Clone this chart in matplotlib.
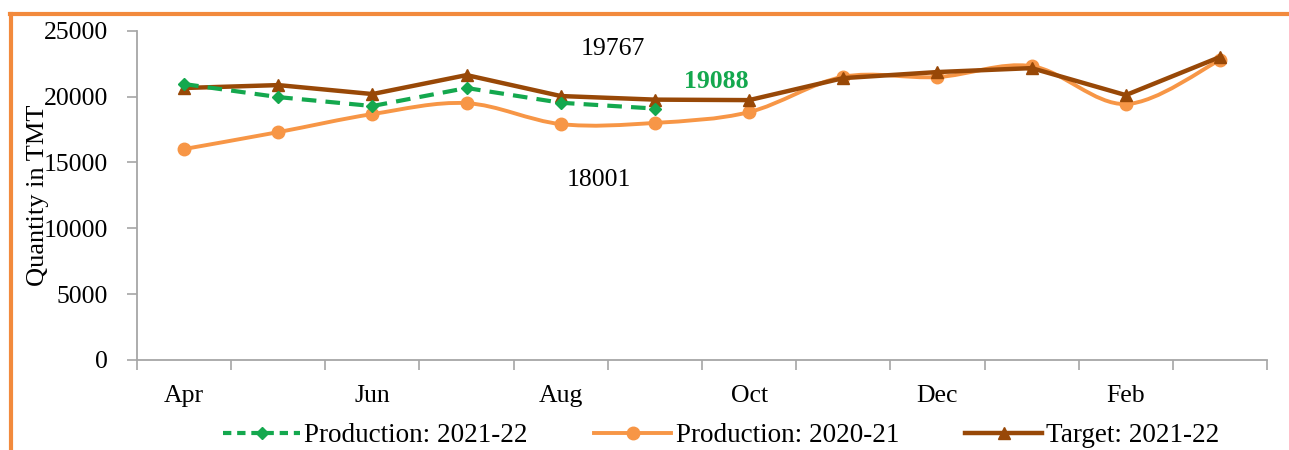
import matplotlib
matplotlib.use("Agg")
import matplotlib.pyplot as plt
from matplotlib.path import Path
from matplotlib.patches import PathPatch
from matplotlib.lines import Line2D
import numpy as np

months = ["Apr", "May", "Jun", "Jul", "Aug", "Sep", "Oct", "Nov", "Dec", "Jan", "Feb", "Mar"]
shown_labels = ["Apr", "", "Jun", "", "Aug", "", "Oct", "", "Dec", "", "Feb", ""]
prod_2122 = [20950, 19960, 19280, 20650, 19530, 19088]
prod_2021 = [16015, 17300, 18670, 19500, 17910, 18001, 18820, 21500, 21480, 22310, 19430, 22770]
target_2122 = [20650, 20870, 20190, 21630, 20040, 19767, 19730, 21400, 21860, 22160, 20110, 23000]
yticks = [0, 5000, 10000, 15000, 20000, 25000]

C_GREEN = "#14A84E"
C_ORANGE = "#F79646"
C_TARGET = "#984807"
C_FRAME = "#F28A3D"

plt.rcParams["font.family"] = ["Liberation Serif", "DejaVu Serif"]
FS = 18.5
FS_LEG = 19.5

fig = plt.figure(figsize=(12.89, 4.5), dpi=100)
ax = fig.add_axes([137 / 1289, 1 - 360 / 450, (1267 - 137) / 1289, (360 - 30.7) / 450])

x_all = np.arange(len(months))


def smooth_path(xs, ys):
    pts = np.column_stack([xs, ys]).astype(float)
    n = len(pts)
    verts = [pts[0]]
    codes = [Path.MOVETO]
    for i in range(n - 1):
        p0 = pts[i - 1] if i > 0 else pts[i]
        p1 = pts[i]
        p2 = pts[i + 1]
        p3 = pts[i + 2] if i + 2 < n else pts[i + 1]
        c1 = p1 + (p2 - p0) / 6.0
        c2 = p2 - (p3 - p1) / 6.0
        verts += [c1, c2, p2]
        codes += [Path.CURVE4] * 3
    return Path(verts, codes)


# Production 2020-21 (smoothed line)
ax.add_patch(PathPatch(smooth_path(x_all, prod_2021), facecolor="none",
                       edgecolor=C_ORANGE, lw=2.8, zorder=2, capstyle="round"))
ax.plot(x_all, prod_2021, ls="none", marker="o", ms=9, color=C_ORANGE, zorder=2)

# Target 2021-22
ax.plot(x_all, target_2122, color=C_TARGET, lw=3.2, marker="^", ms=9, zorder=3)

# Production 2021-22
ax.plot(x_all[:len(prod_2122)], prod_2122, color=C_GREEN, lw=3.0, ls=(0, (3.5, 2.2)),
        marker="D", ms=6.5, zorder=4)

ax.set_xlim(-0.5, len(months) - 0.5)
ax.set_ylim(0, 25000)
ax.set_yticks(yticks)
ax.set_yticklabels([str(v) for v in yticks], fontsize=FS)
ax.set_xticks(x_all)
ax.set_xticklabels(shown_labels, fontsize=FS)
ax.set_xticks(np.arange(-0.5, len(months) + 0.5, 1), minor=True)
ax.tick_params(axis="x", which="major", length=0, pad=18)
ax.tick_params(axis="x", which="minor", length=7, color="#A6A6A6", width=1.2)
ax.tick_params(axis="y", length=7, color="#A6A6A6", width=1.2, pad=14)
for s in ["top", "right"]:
    ax.spines[s].set_visible(False)
for s in ["left", "bottom"]:
    ax.spines[s].set_color("#A6A6A6")
    ax.spines[s].set_linewidth(1.3)

ax.set_ylabel("Quantity in TMT", fontsize=19, labelpad=-4)

# value labels
ax.annotate(f"{target_2122[5]}", xy=(5, target_2122[5]), xytext=(-42, 51),
            textcoords="offset pixels", ha="center", va="center", fontsize=FS, color="black")
ax.annotate(f"{prod_2122[5]}", xy=(5, prod_2122[5]), xytext=(61, 27),
            textcoords="offset pixels", ha="center", va="center", fontsize=FS,
            color=C_GREEN, fontweight="bold")
ax.annotate(f"{prod_2021[5]}", xy=(5, prod_2021[5]), xytext=(-56, -57),
            textcoords="offset pixels", ha="center", va="center", fontsize=FS, color="black")

handles = [
    Line2D([], [], color=C_GREEN, lw=3.0, ls=(0, (2.0, 1.4)), marker="D", ms=6.5),
    Line2D([], [], color=C_ORANGE, lw=2.8, marker="o", ms=9),
    Line2D([], [], color=C_TARGET, lw=3.2, marker="^", ms=9),
]
fig.legend(handles, ["Production: 2021-22", "Production: 2020-21", "Target: 2021-22"],
           loc="center", bbox_to_anchor=(0.5597, 1 - 436 / 450), ncol=3, frameon=False,
           fontsize=FS_LEG, handlelength=2.85, handletextpad=0.15, columnspacing=2.45)

# orange frame (left and top edges)
fig.add_artist(Line2D([11 / 1289, 11 / 1289], [0, 1 - 13.5 / 450], color=C_FRAME, lw=3,
                      transform=fig.transFigure))
fig.add_artist(Line2D([9.5 / 1289, 1], [1 - 13.5 / 450, 1 - 13.5 / 450], color=C_FRAME, lw=3,
                      transform=fig.transFigure))

fig.savefig("out.png", dpi=100)
